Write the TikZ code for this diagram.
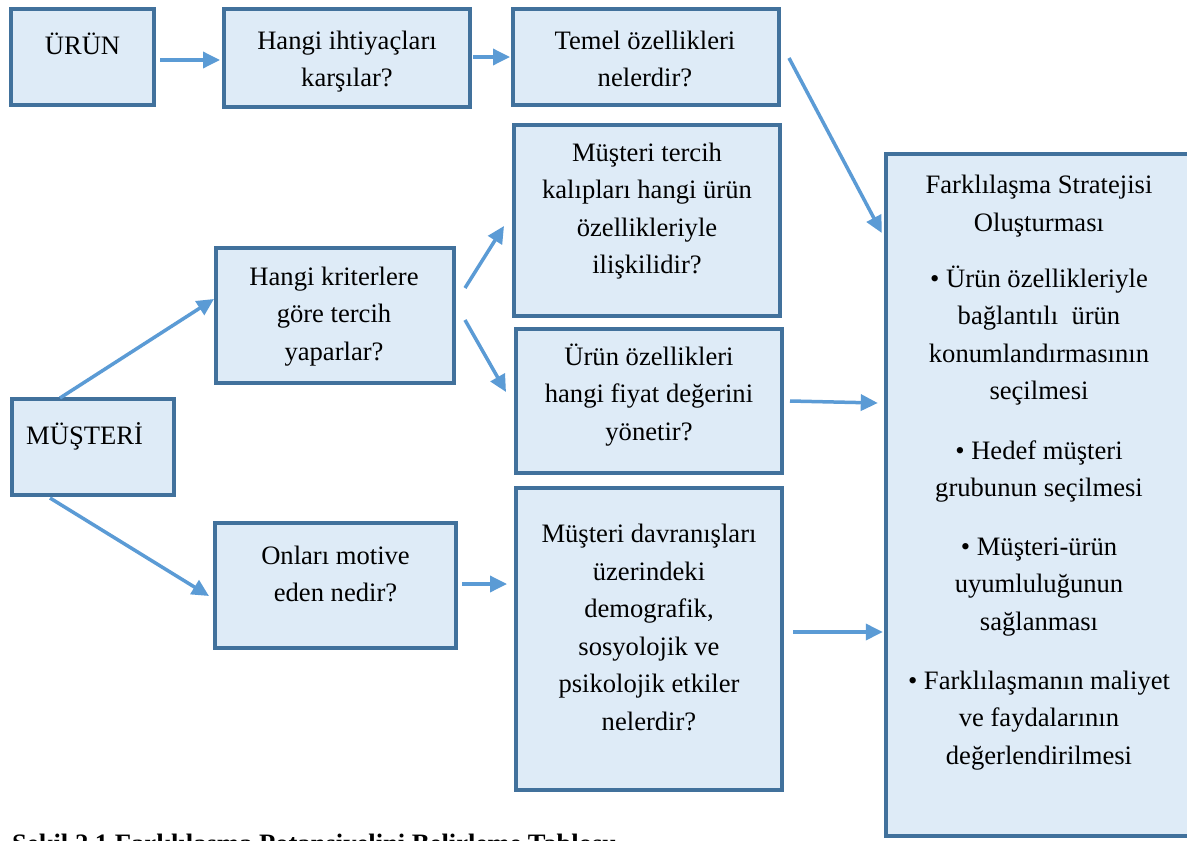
\documentclass[tikz,border=0pt]{standalone}
\usepackage{fontspec}
\setmainfont{Liberation Serif}
\usetikzlibrary{arrows.meta,calc}
\definecolor{boxborder}{HTML}{41719C}
\definecolor{boxfill}{HTML}{DEEBF7}
\definecolor{arrowblue}{HTML}{5B9BD5}
\newcommand\fsz{\fontsize{26.6}{37.5}\selectfont}
\begin{document}
\begin{tikzpicture}[x=1pt,y=-1pt,
  box/.style={draw=boxborder, fill=boxfill, line width=4pt, inner sep=0pt},
  openbox/.style={fill=boxfill, inner sep=0pt},
  edge/.style={draw=boxborder, line width=4pt},
  txt/.style={font=\fsz, align=center, inner sep=0pt, anchor=north},
  arr/.style={draw=arrowblue, line width=3.5pt, -{Triangle[length=17pt,width=16pt]}},
  captxt/.style={font=\fsz\bfseries, inner sep=0pt, anchor=base west}
]
\useasboundingbox (0,0) rectangle (1187,841);
\fill[white] (0,0) rectangle (1187,841);
\begin{scope}
\clip (0,0) rectangle (1187,841);

% boxes
\node[box, minimum width=143pt, minimum height=96pt] (urun) at (82.5,57) {};
\node[box, minimum width=246pt, minimum height=98pt] (ihtiyac) at (347,58) {};
\node[box, minimum width=266pt, minimum height=96pt] (temel) at (646,57) {};
\node[box, minimum width=266pt, minimum height=191pt] (tercih) at (647,220.5) {};
\node[box, minimum width=238pt, minimum height=135pt] (kriter) at (335,315.5) {};
\node[box, minimum width=266pt, minimum height=144pt] (fiyat) at (649,401) {};
\node[box, minimum width=162pt, minimum height=96pt] (musteri) at (93,447) {};
\node[box, minimum width=241pt, minimum height=125pt] (motive) at (335.5,585.5) {};
\node[box, minimum width=266pt, minimum height=302pt] (davranis) at (649,639) {};
% the strategy box runs past the right edge of the picture
\node[openbox, minimum width=350pt, minimum height=682pt] (strateji) at (1061,495) {};
\draw[edge] (strateji.north east) -- (strateji.north west) -- (strateji.south west) -- (strateji.south east);

% texts
\node[txt] (t-urun) at (82.5,27.75) {\strut ÜRÜN};
\node[txt] (t-ihtiyac) at (347,22.75) {\strut Hangi ihtiyaçları\\karşılar?};
\node[txt] (t-temel) at (645,22.75) {\strut Temel özellikleri\\nelerdir?};
\node[txt] (t-tercih) at (647,134.75) {\strut Müşteri tercih\\kalıpları hangi ürün\\özellikleriyle\\ilişkilidir?};
\node[txt] (t-kriter) at (334,258.75) {\strut Hangi kriterlere\\göre tercih\\yaparlar?};
\node[txt, anchor=north west] (t-musteri) at (26,417.75) {\strut MÜŞTERİ};
\node[txt] (t-fiyat) at (649,338.75) {\strut Ürün özellikleri\\hangi fiyat değerini\\yönetir?};
\node[txt] (t-motive) at (335.5,537.75) {\strut Onları motive\\eden nedir?};
\node[txt] (t-davranis) at (649,516.5) {\strut Müşteri davranışları\\üzerindeki\\demografik,\\sosyolojik ve\\psikolojik etkiler\\nelerdir?};
\node[txt] (t-s0) at (1039,167.5) {\strut Farklılaşma Stratejisi\\Oluşturması};
\node[txt] (t-s1) at (1039,260.75) {\strut • Ürün özellikleriyle\\bağlantılı~~ürün\\konumlandırmasının\\seçilmesi};
\node[txt] (t-s2) at (1039,432.75) {\strut • Hedef müşteri\\grubunun seçilmesi};
\node[txt] (t-s3) at (1039,528.75) {\strut • Müşteri-ürün\\uyumluluğunun\\sağlanması};
\node[txt] (t-s4) at (1039,662.75) {\strut • Farklılaşmanın maliyet\\ve faydalarının\\değerlendirilmesi};

% caption (cut off at page bottom, as in the reference)
\node[captxt] (caption) at (12,852) {Şekil 2.1 Farklılaşma Potansiyelini Belirleme Tablosu};

% arrows
\draw[arr] ($(urun.east)+(4,3)$) -- ($(ihtiyac.west)+(-2,2)$);
\draw[arr] ($(ihtiyac.east)+(1,-1)$) -- ($(temel.west)+(-1,0)$);
\draw[arr] ($(temel.east)+(8,1)$) -- ($(strateji.west)+(-4,-262)$);
\draw[arr] ($(musteri.north)+(-33,1)$) -- ($(kriter.west)+(0,-16.5)$);
\draw[arr] ($(musteri.south)+(-43,1)$) -- ($(motive.west)+(-4,10.5)$);
\draw[arr] ($(kriter.east)+(9,-27.5)$) -- ($(tercih.west)+(-8,5.5)$);
\draw[arr] ($(kriter.east)+(9,4.5)$) -- ($(fiyat.west)+(-8,-9)$);
\draw[arr] ($(fiyat.east)+(6,0)$) -- ($(strateji.west)+(-8,-92)$);
\draw[arr] ($(motive.east)+(4,-1.5)$) -- ($(davranis.west)+(-7,-55)$);
\draw[arr] ($(davranis.east)+(9,-7)$) -- ($(strateji.west)+(-3,137)$);
\end{scope}
\end{tikzpicture}
\end{document}
